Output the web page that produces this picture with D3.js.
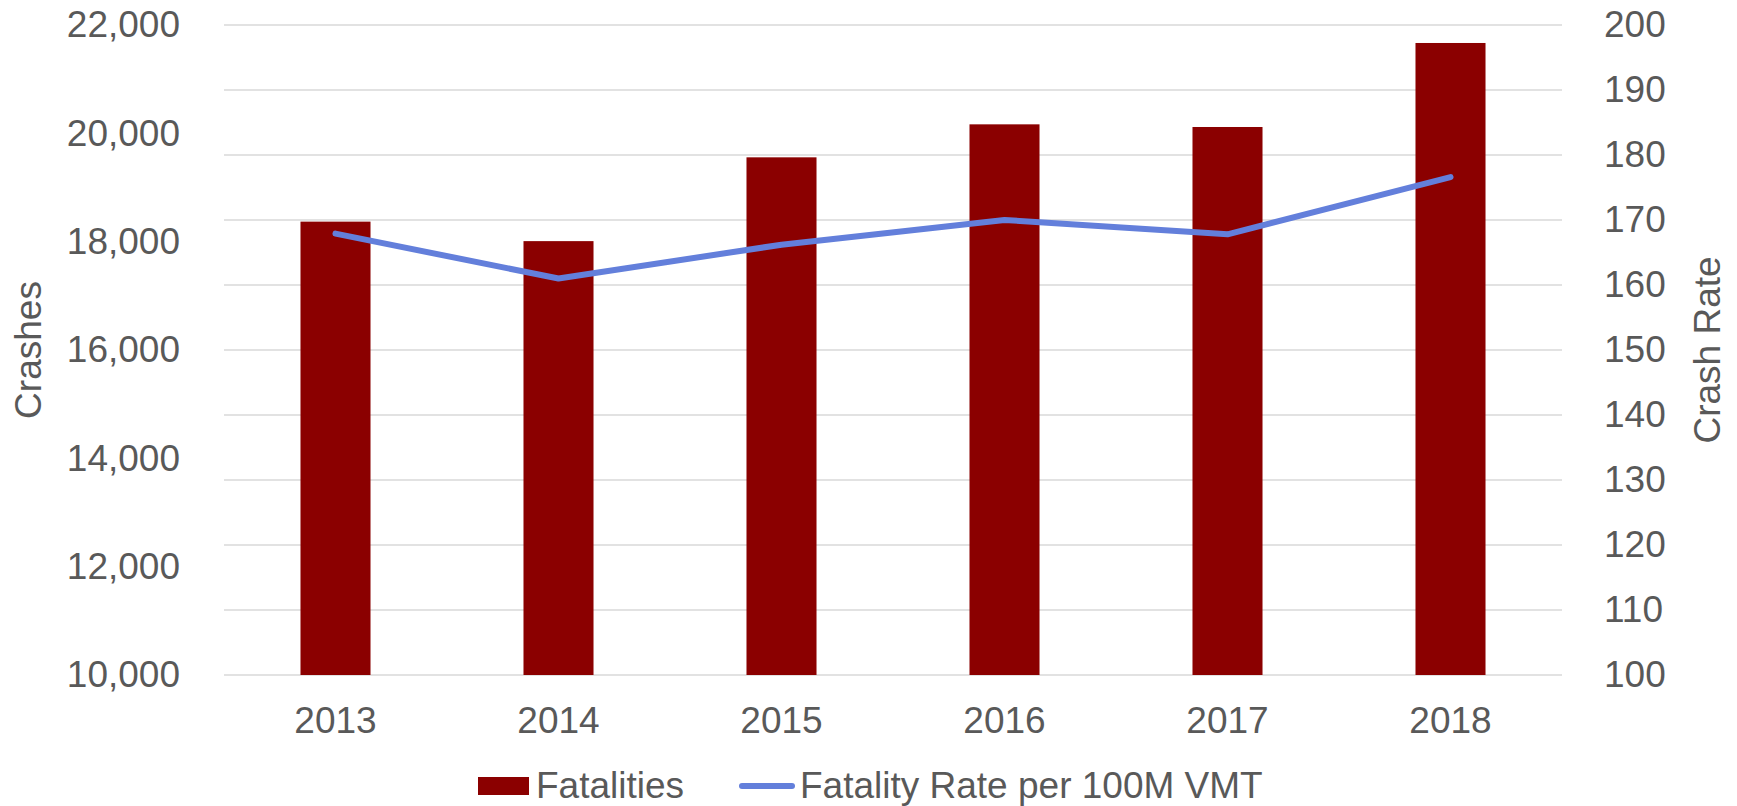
<!DOCTYPE html>
<html>
<head>
<meta charset="utf-8">
<script src="https://cdn.jsdelivr.net/npm/d3@7"></script>
<style>
  body { margin: 0; background: #fff; }
  text { font-family: "Liberation Sans", Arial, sans-serif; fill: #595959; }
</style>
</head>
<body>
<script>
var width = 1737;
var height = 806;

// data
var years = ["2013", "2014", "2015", "2016", "2017", "2018"];
var fatalities = [18370, 18010, 19557, 20166, 20117, 21668];
var fatalityRate = [167.9, 161.0, 166.2, 170.0, 167.8, 176.6];
var leftTicks = [10000, 12000, 14000, 16000, 18000, 20000, 22000];
var rightTicks = [100, 110, 120, 130, 140, 150, 160, 170, 180, 190, 200];

var barColor = "#8b0000";
var lineColor = "#637fdb";
var fontSize = 37;

var plotLeft = 224, plotRight = 1562, plotTop = 25, plotBottom = 675;

var svg = d3.select("body").append("svg")
    .attr("width", width)
    .attr("height", height);

var x = d3.scaleBand()
    .domain(years)
    .range([plotLeft, plotRight])
    .paddingInner(0.686)
    .paddingOuter(0.343);

var yLeft = d3.scaleLinear().domain([10000, 22000]).range([plotBottom, plotTop]);
var yRight = d3.scaleLinear().domain([100, 200]).range([plotBottom, plotTop]);

// gridlines follow the right axis
svg.append("g").selectAll("line")
  .data(rightTicks)
.enter().append("line")
  .attr("x1", plotLeft)
  .attr("x2", plotRight)
  .attr("y1", function(d) { return yRight(d); })
  .attr("y2", function(d) { return yRight(d); })
  .attr("stroke", "#d9d9d9")
  .attr("stroke-width", 1.5);

// bars
svg.append("g").selectAll("rect")
  .data(years)
.enter().append("rect")
  .attr("x", function(d) { return x(d); })
  .attr("width", x.bandwidth())
  .attr("y", function(d, i) { return yLeft(fatalities[i]); })
  .attr("height", function(d, i) { return plotBottom - yLeft(fatalities[i]); })
  .attr("fill", barColor);

// rate line
var line = d3.line()
  .x(function(d, i) { return x(years[i]) + x.bandwidth() / 2; })
  .y(function(d) { return yRight(d); });

svg.append("path")
  .attr("d", line(fatalityRate))
  .attr("fill", "none")
  .attr("stroke", lineColor)
  .attr("stroke-width", 6)
  .attr("stroke-linecap", "round")
  .attr("stroke-linejoin", "round");

// axes
var leftAxis = svg.append("g")
  .attr("transform", "translate(" + plotLeft + ",0)")
  .call(d3.axisLeft(yLeft).tickValues(leftTicks).tickSize(0).tickPadding(44).tickFormat(d3.format(",")));

var rightAxis = svg.append("g")
  .attr("transform", "translate(" + plotRight + ",0)")
  .call(d3.axisRight(yRight).tickValues(rightTicks).tickSize(0).tickPadding(42));

var bottomAxis = svg.append("g")
  .attr("transform", "translate(0," + plotBottom + ")")
  .call(d3.axisBottom(x).tickSize(0).tickPadding(32));

[leftAxis, rightAxis, bottomAxis].forEach(function(a) {
  a.select(".domain").remove();
  a.selectAll("text")
    .attr("font-size", fontSize)
    .attr("font-family", "Liberation Sans, Arial, sans-serif")
    .attr("fill", "#595959");
});

// axis titles
svg.append("text")
  .attr("transform", "translate(41,350) rotate(-90)")
  .attr("text-anchor", "middle")
  .attr("font-size", fontSize)
  .text("Crashes");

svg.append("text")
  .attr("transform", "translate(1720,350) rotate(-90)")
  .attr("text-anchor", "middle")
  .attr("font-size", fontSize)
  .text("Crash Rate");

// legend
var legend = svg.append("g");
legend.append("rect")
  .attr("x", 478).attr("y", 777)
  .attr("width", 51).attr("height", 18)
  .attr("fill", barColor);
legend.append("text")
  .attr("x", 536).attr("y", 798)
  .attr("font-size", fontSize)
  .text("Fatalities");
legend.append("line")
  .attr("x1", 742).attr("x2", 792)
  .attr("y1", 786).attr("y2", 786)
  .attr("stroke", lineColor)
  .attr("stroke-width", 6)
  .attr("stroke-linecap", "round");
legend.append("text")
  .attr("x", 800).attr("y", 798)
  .attr("font-size", fontSize)
  .text("Fatality Rate per 100M VMT");
</script>
</body>
</html>
